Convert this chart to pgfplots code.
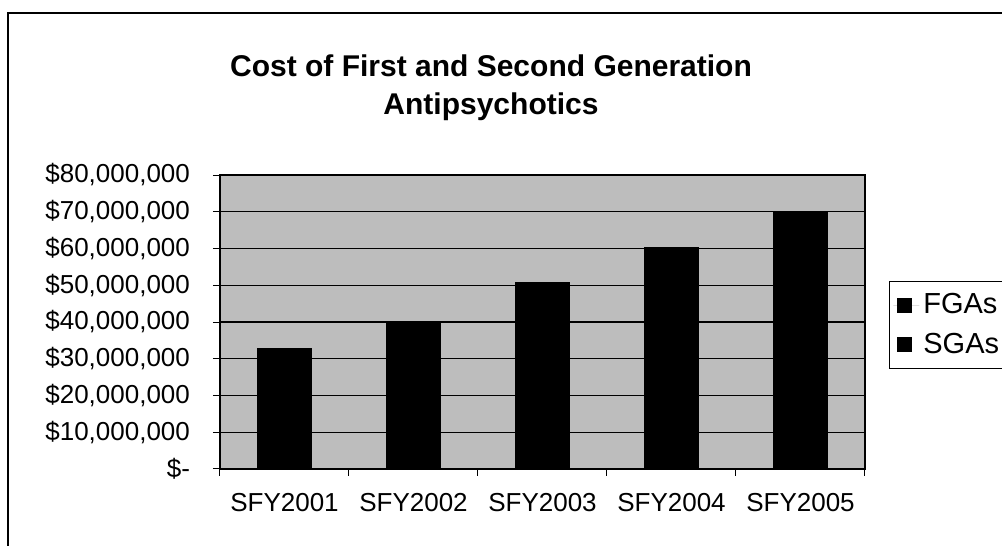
\documentclass[border=0pt]{standalone}
\usepackage{pgfplots}
\pgfplotsset{compat=1.18}
\usepackage{fontspec}
\setmainfont{Liberation Sans}
\begin{document}
\begin{tikzpicture}
\useasboundingbox (0,0) rectangle (501pt,273pt);
\fill[white] (0,0) rectangle (501pt,273pt);
% outer frame (cut at right and bottom)
\draw[black, line width=1.1pt] (4pt,0) -- (4pt,266.5pt) -- (501pt,266.5pt);
% title
\node[font=\fontsize{15}{18}\selectfont\bfseries, anchor=base] at (245.5pt,234.5pt) {Cost of First and Second Generation};
\node[font=\fontsize{15}{18}\selectfont\bfseries, anchor=base] at (245.5pt,215.5pt) {Antipsychotics};
\begin{axis}[
  at={(110pt,38.5pt)}, anchor=south west,
  scale only axis, width=322.5pt, height=147pt,
  ybar, bar width=0.42, bar shift=0pt,
  xmin=-0.5, xmax=4.5, ymin=0, ymax=80000000,
  scaled y ticks=false,
  xtick={0,1,2,3,4},
  xticklabels={SFY2001,SFY2002,SFY2003,SFY2004,SFY2005},
  minor xtick={-0.5,0.5,1.5,2.5,3.5,4.5},
  ytick={0,10000000,20000000,30000000,40000000,50000000,60000000,70000000,80000000},
  yticklabels={{\$-\hspace{10pt}},{\$10,000,000},{\$20,000,000},{\$30,000,000},{\$40,000,000},{\$50,000,000},{\$60,000,000},{\$70,000,000},{\$80,000,000}},
  tick pos=left, tick align=outside,
  major tick length=3.5pt, minor tick length=3.5pt,
  every tick/.style={black, line width=0.5pt},
  every minor tick/.style={black, line width=0.5pt},
  every major x tick/.append style={draw=none},
  ymajorgrids, grid style={black, line width=0.7pt},
  axis line style={black, line width=0.7pt},
  axis background/.style={fill=black!26},
  ticklabel style={font=\fontsize{13}{15}\selectfont},
  yticklabel style={xshift=-8pt},
  xticklabel style={yshift=-5pt},
  legend style={at={(1.037,0.639)}, anchor=north west, draw=black, line width=0.5pt,
    font=\fontsize{14.5}{17}\selectfont, inner xsep=2pt, inner ysep=4pt, row sep=4pt},
  legend cell align=left,
  legend image code/.code={\path[draw=none] (0pt,0pt) -- (13pt,0pt);\fill[black] (2pt,-3.5pt) rectangle (9pt,3.5pt);},
]
\addplot[fill=black, draw=black] coordinates {(0,32800000) (1,40100000) (2,50800000) (3,60300000) (4,70100000)};
\addlegendentry{FGAs}
\addlegendimage{legend image code/.code={\path[draw=none] (0pt,0pt) -- (13pt,0pt);\fill[black] (2pt,-3.5pt) rectangle (9pt,3.5pt);}}
\addlegendentry{SGAs}
\end{axis}
\end{tikzpicture}
\end{document}
